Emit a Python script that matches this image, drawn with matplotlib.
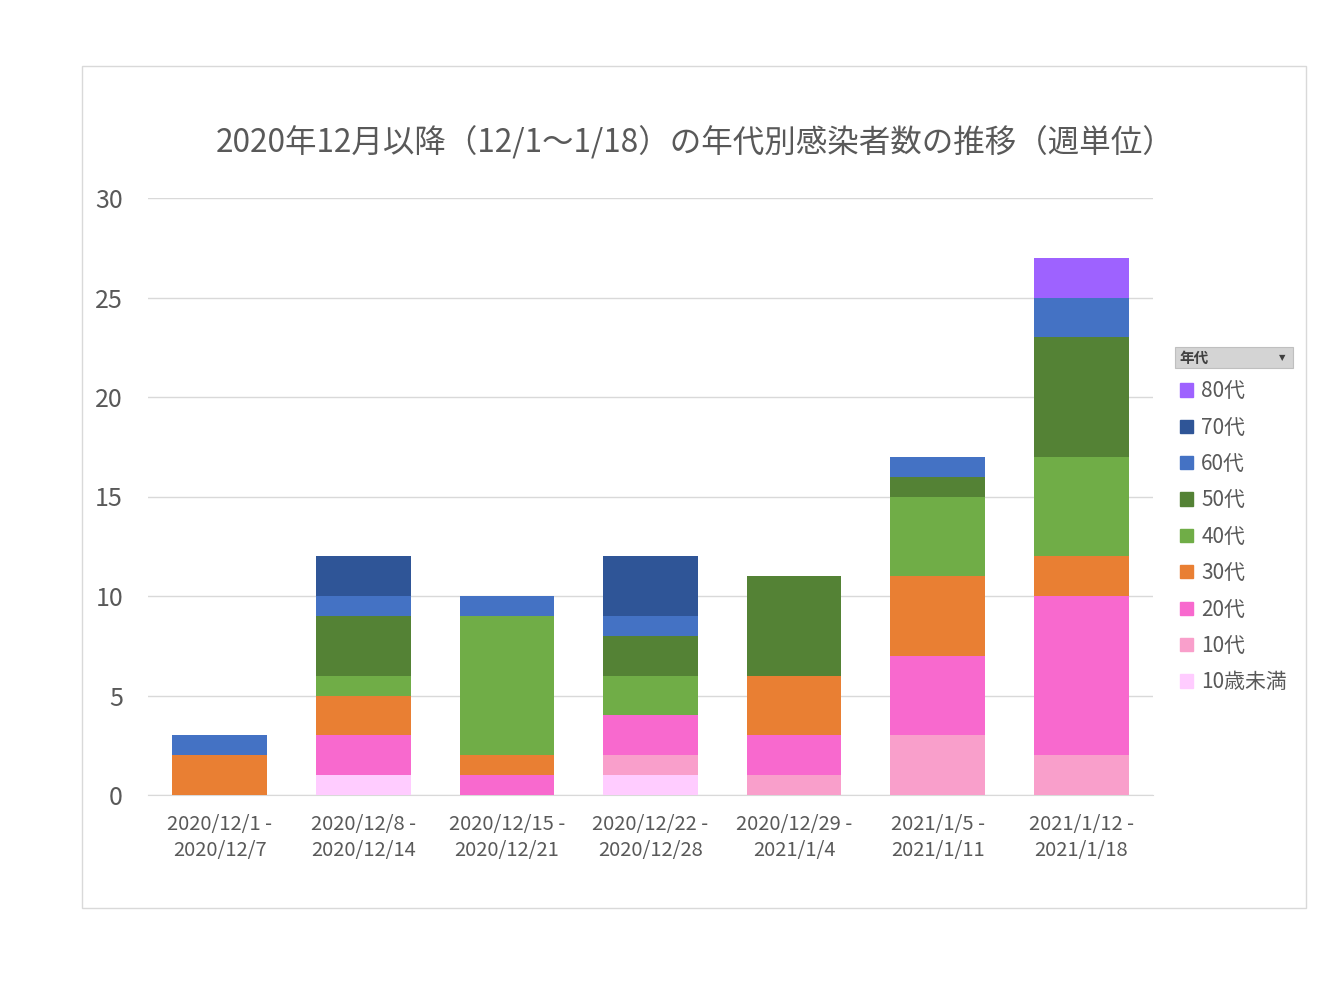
import matplotlib.pyplot as plt
from matplotlib.patches import Rectangle, Patch
import numpy as np

plt.rcParams['font.family'] = ['Noto Sans CJK JP', 'DejaVu Sans']

weeks = ['2020/12/1 -\n2020/12/7', '2020/12/8 -\n2020/12/14', '2020/12/15 -\n2020/12/21',
         '2020/12/22 -\n2020/12/28', '2020/12/29 -\n2021/1/4', '2021/1/5 -\n2021/1/11',
         '2021/1/12 -\n2021/1/18']

# stacked from bottom to top
age_groups = ['10歳未満', '10代', '20代', '30代', '40代', '50代', '60代', '70代', '80代']
under10 = [0, 1, 0, 1, 0, 0, 0]
teens = [0, 0, 0, 1, 1, 3, 2]
twenties = [0, 2, 1, 2, 2, 4, 8]
thirties = [2, 2, 1, 0, 3, 4, 2]
forties = [0, 1, 7, 2, 0, 4, 5]
fifties = [0, 3, 0, 2, 5, 1, 6]
sixties = [1, 1, 1, 1, 0, 1, 2]
seventies = [0, 2, 0, 3, 0, 0, 0]
eighties = [0, 0, 0, 0, 0, 0, 2]

series = [under10, teens, twenties, thirties, forties, fifties, sixties, seventies, eighties]
colors = ['#FFCCFF', '#F99FCB', '#F869CE', '#E97F33', '#70AD47', '#548235',
          '#4472C4', '#2F5597', '#9E62FF']

W, H = 1344, 1008
fig = plt.figure(figsize=(W / 100, H / 100), dpi=100)

# outer chart frame
fig.patches.append(Rectangle((82 / W, 1 - 908 / H), (1306 - 82) / W, (908 - 66) / H,
                             transform=fig.transFigure, fill=False, ec='#D9D9D9', lw=1))

ax = fig.add_axes([148 / W, 1 - 795 / H, (1153 - 148) / W, (795 - 198) / H])
x = np.arange(len(weeks))
bottom = np.zeros(len(weeks))
for vals, c in zip(series, colors):
    ax.bar(x, vals, bottom=bottom, width=0.66, color=c, zorder=3)
    bottom += np.array(vals)

ax.set_xlim(-0.5, len(weeks) - 0.5)
ax.set_ylim(0, 30)
ax.set_yticks(range(0, 31, 5))
ax.set_xticks(x)
ax.set_xticklabels(weeks, fontsize=14.5, color='#595959', linespacing=1.3)
ax.tick_params(axis='y', labelsize=18, colors='#595959', length=0, pad=18)
ax.tick_params(axis='x', length=0, pad=14)
ax.grid(axis='y', color='#D9D9D9', lw=1, zorder=0)
for s in ['top', 'right', 'left']:
    ax.spines[s].set_visible(False)
ax.spines['bottom'].set_color('#D9D9D9')

fig.text(695 / W, 1 - 143 / H, '2020年12月以降（12/1～1/18）の年代別感染者数の推移（週単位）',
         ha='center', va='center', fontsize=22.7, color='#595959')

# legend header
fig.patches.append(Rectangle((1175 / W, 1 - 368 / H), (1293 - 1175) / W, 21 / H,
                             transform=fig.transFigure, fc='#D4D4D4', ec='#BFBFBF', lw=0.8))
fig.text(1179 / W, 1 - 358 / H, '年代', ha='left', va='center', fontsize=10.5,
         fontweight='bold', color='#404040')
fig.text(1282 / W, 1 - 358 / H, '▼', ha='center', va='center', fontsize=6,
         color='#404040', family=['DejaVu Sans'])

handles = [Patch(color=c, label=l) for l, c in zip(age_groups, colors)][::-1]
fig.legend(handles=handles, loc='upper left', bbox_to_anchor=(1172 / W, 1 - 372 / H),
           frameon=False, fontsize=15, labelcolor='#595959', handlelength=0.6,
           handleheight=0.6, handletextpad=0.4, labelspacing=0.69, borderaxespad=0)

fig.savefig('out.png', dpi=100)
